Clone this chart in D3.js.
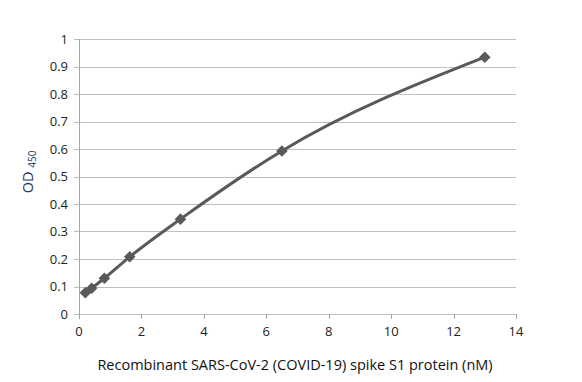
<!DOCTYPE html>
<html><head><meta charset="utf-8">
<script src="https://cdn.jsdelivr.net/npm/d3@7"></script>
<style>body{margin:0;background:#fff;} text{font-family:"Open Sans","DejaVu Sans",sans-serif;}</style>
</head><body>
<svg id="c" width="582" height="382"></svg>
<script>
const concentration = [0.203, 0.406, 0.8125, 1.625, 3.25, 6.5, 13.0];
const od450 = [0.077, 0.094, 0.130, 0.208, 0.345, 0.593, 0.934];
const xTicks = [0, 2, 4, 6, 8, 10, 12, 14];
const yTicks = [0, 0.1, 0.2, 0.3, 0.4, 0.5, 0.6, 0.7, 0.8, 0.9, 1];
const xTitle = "Recombinant SARS-CoV-2 (COVID-19) spike S1 protein (nM)";

const svg = d3.select("#c");
const x = d3.scaleLinear().domain([0, 14]).range([79, 516]);
const y = d3.scaleLinear().domain([0, 1]).range([314, 39]);

// gridlines
svg.append("g").selectAll("line").data(yTicks).join("line")
  .attr("x1", 74).attr("x2", 516)
  .attr("y1", d => Math.round(y(d)) + 0.5).attr("y2", d => Math.round(y(d)) + 0.5)
  .attr("stroke", "#bfbfbf").attr("stroke-width", 1);

// y axis line
svg.append("line").attr("x1", 79.5).attr("x2", 79.5).attr("y1", y(1)).attr("y2", y(0))
  .attr("stroke", "#a6a6a6");
// x ticks
svg.append("g").selectAll("line").data(xTicks).join("line")
  .attr("x1", d => Math.round(x(d)) + 0.5).attr("x2", d => Math.round(x(d)) + 0.5)
  .attr("y1", y(0)).attr("y2", y(0) + 5).attr("stroke", "#a6a6a6");

// y labels
svg.append("g").selectAll("text").data(yTicks).join("text")
  .attr("x", 68).attr("y", d => y(d) + 4.5).attr("text-anchor", "end")
  .attr("font-size", 13).attr("fill", "#222").text(d => d3.format("~g")(d));
// x labels
svg.append("g").selectAll("text").data(xTicks).join("text")
  .attr("x", d => x(d)).attr("y", 336).attr("text-anchor", "middle")
  .attr("font-size", 13).attr("fill", "#222").text(d => d);

// curve
const pts = concentration.map((c, i) => [x(c), y(od450[i])]);
svg.append("path").attr("d", d3.line().curve(d3.curveMonotoneX)(pts))
  .attr("fill", "none").attr("stroke", "#595959").attr("stroke-width", 3);

// markers
svg.append("g").selectAll("path").data(pts).join("path")
  .attr("transform", d => `translate(${d[0]},${d[1]})`)
  .attr("d", d3.symbol().type(d3.symbolDiamond2).size(85))
  .attr("fill", "#595959");

// titles
svg.append("text").attr("x", 295).attr("y", 370).attr("text-anchor", "middle")
  .attr("font-size", 14.5).attr("fill", "#111").text(xTitle);

const yt = svg.append("text").attr("transform", "translate(33,172) rotate(-90)")
  .attr("text-anchor", "middle").attr("fill", "#1f3864").attr("font-size", 14.5);
yt.append("tspan").text("OD ");
yt.append("tspan").attr("font-size", 10).attr("dy", 3).text("450");
</script>
</body></html>
